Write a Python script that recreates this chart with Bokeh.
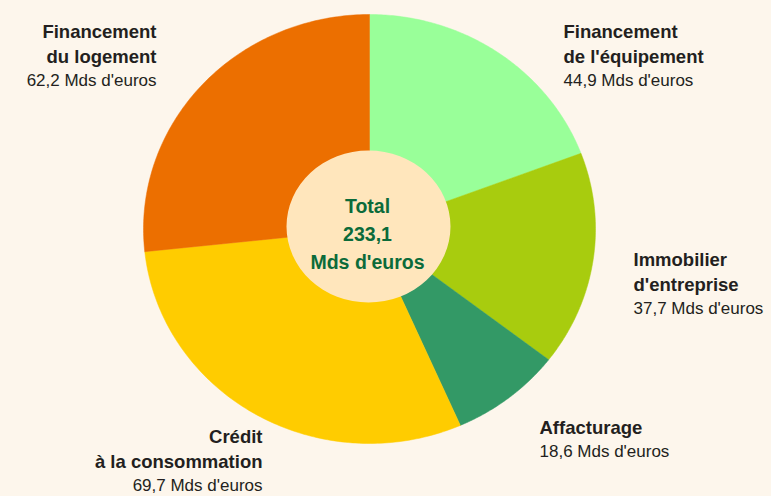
import numpy as np
from bokeh.plotting import figure
from bokeh.models import Range1d
from bokeh.core.properties import value
from bokeh.embed import file_html
from bokeh.resources import INLINE

# ---- data ----
categories = ["Financement de l'équipement", "Immobilier d'entreprise", "Affacturage",
              "Crédit à la consommation", "Financement du logement"]
title_lines = [["Financement", "de l'équipement"], ["Immobilier", "d'entreprise"], ["Affacturage"],
               ["Crédit", "à la consommation"], ["Financement", "du logement"]]
values = [44.9, 37.7, 18.6, 69.7, 62.2]
total = 233.1
colors = ["#99FF99", "#A8CC0E", "#339966", "#FFCC00", "#EC6F00"]

def fr(v):
    return f"{v:.1f}".replace(".", ",")

BG = "#FDF6EC"
W, H = 771, 496
p = figure(width=W, height=H, output_backend="svg", toolbar_location=None,
           x_range=Range1d(0, W), y_range=Range1d(H, 0),
           min_border=0, background_fill_color=BG, border_fill_color=BG)
p.axis.visible = False
p.grid.visible = False
p.outline_line_color = None

# ---- pie (slightly elliptical, as in the original) ----
cx, cy, rx, ry = 369, 228.5, 226, 214.5
cum = np.concatenate([[0], np.cumsum(values)])
angles = cum / cum[-1] * 2 * np.pi
xs, ys = [], []
for a0, a1 in zip(angles[:-1], angles[1:]):
    t = np.linspace(a0, a1, 120)
    xs.append([cx] + list(cx + rx * np.sin(t)))
    ys.append([cy] + list(cy - ry * np.cos(t)))
p.patches(xs, ys, fill_color=colors, line_color=colors, line_width=0.5)

# ---- centre ----
p.ellipse(x=[368], y=[226], width=[164], height=[152], fill_color="#FFE6BC", line_color=None)
center_lines = ["Total", fr(total), "Mds d'euros"]
p.text(x=[367] * 3, y=[205, 233, 261], text=center_lines, text_align="center",
       text_baseline="alphabetic", text_color="#0B6B3A",
       text_font=value("Liberation Sans"), text_font_style="bold", text_font_size="19.5px")

# ---- labels ----
# (x, align, first baseline) per slice
label_pos = [(563, "left", 31), (633, "left", 259), (539, "left", 427),
             (262, "right", 436), (156, "right", 31)]
for (lx, al, by), lines, v in zip(label_pos, title_lines, values):
    n = len(lines)
    p.text(x=[lx] * n, y=[by + 25 * i for i in range(n)], text=lines, text_align=al,
           text_baseline="alphabetic", text_color="#231F20",
           text_font=value("Liberation Sans"), text_font_style="bold", text_font_size="18.5px")
    p.text(x=[lx], y=[by + 25 * n - 1], text=[f"{fr(v)} Mds d'euros"], text_align=al,
           text_baseline="alphabetic", text_color="#231F20",
           text_font=value("Liberation Sans"), text_font_size="17px")

html = file_html(p, INLINE).replace("<body>", f'<body style="margin:0;background:{BG}">')
open("out.html", "w").write(html)
